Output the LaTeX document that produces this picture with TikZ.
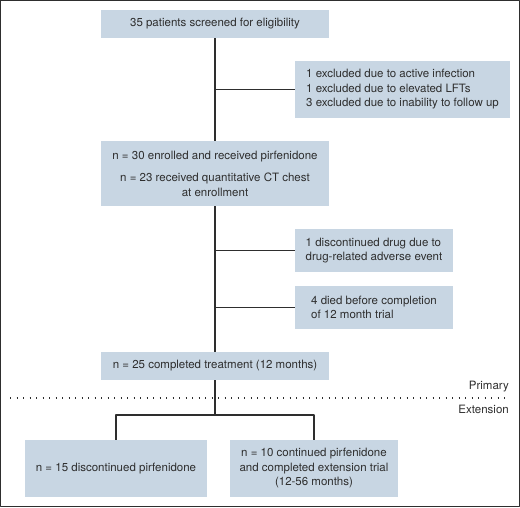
\documentclass[tikz,border=0pt]{standalone}
\usepackage{fontspec}
\setmainfont{TeX Gyre Heros}
\definecolor{boxblue}{HTML}{C8D6E3}
\definecolor{ink}{HTML}{2E2E2E}
\begin{document}
\begin{tikzpicture}[x=1pt,y=-1pt,line join=round,
		font=\fontsize{11.5}{14.5}\selectfont,text=ink,
		box/.style={fill=boxblue,inner sep=0pt,align=center},
		sidebox/.style={box,align=left},
		trunk/.style={draw=ink,line width=2pt},
		branch/.style={draw=ink,line width=1.3pt}]
		\useasboundingbox (0,0) rectangle (520,507);
		\draw[ink,line width=1pt] (0.5,0.5) rectangle (519.5,506.5);
		% main column
		\node[box,minimum width=228pt,minimum height=28pt] (screen) at (215,24) {35 patients screened for eligibility};
		\node[box,minimum width=228pt,minimum height=65pt] (enrol) at (215,173.5) {n = 30 enrolled and received pirfenidone\\[8pt]
			n = 23 received quantitative CT chest\\at enrollment};
		\node[box,minimum width=228pt,minimum height=28pt] (done) at (215,366) {n = 25 completed treatment (12 months)};
		% side boxes
		\node[sidebox,minimum width=215pt,minimum height=57pt] (excl) at (402.5,89.5) {1 excluded due to active infection\\
			1 excluded due to elevated LFTs\\3 excluded due to inability to follow up};
		\node[sidebox,minimum width=158pt,minimum height=43pt] (adverse) at (374,250.5) {1 discontinued drug due to\\drug-related adverse event};
		\node[sidebox,minimum width=158pt,minimum height=43pt] (died) at (374,307.5) {4 died before completion\\of 12 month trial\hspace*{12pt}};
		% extension boxes
		\node[box,minimum width=182pt,minimum height=57pt] (stop) at (116,468.5) {n = 15 discontinued pirfenidone};
		\node[box,minimum width=168pt,minimum height=57pt] (cont) at (314,468.5) {n = 10 continued pirfenidone\\
			and completed extension trial\\(12-56 months)};
		% phase divider
		\draw[ink,line width=1.4pt,dash pattern=on 1.4pt off 5.1pt] (10,398)--(510,398);
		\node[anchor=east,inner sep=0pt] (prim) at (509,387) {Primary};
		\node[anchor=east,inner sep=0pt] (ext) at (509,409) {Extension};
		% connectors
		\draw[trunk] (screen) -- (enrol);
		\draw[trunk] (enrol) -- (done);
		\draw[branch] (screen.south |- excl.west) -- (excl.west);
		\draw[branch] (enrol.south |- adverse.west) -- (adverse.west);
		\draw[branch] (enrol.south |- died.west) -- (died.west);
		\coordinate (split) at (215,415);
		\draw[trunk] (done) -- (split);
		\draw[trunk] (stop.north) |- (split) -| (cont.north);
\end{tikzpicture}
\end{document}
